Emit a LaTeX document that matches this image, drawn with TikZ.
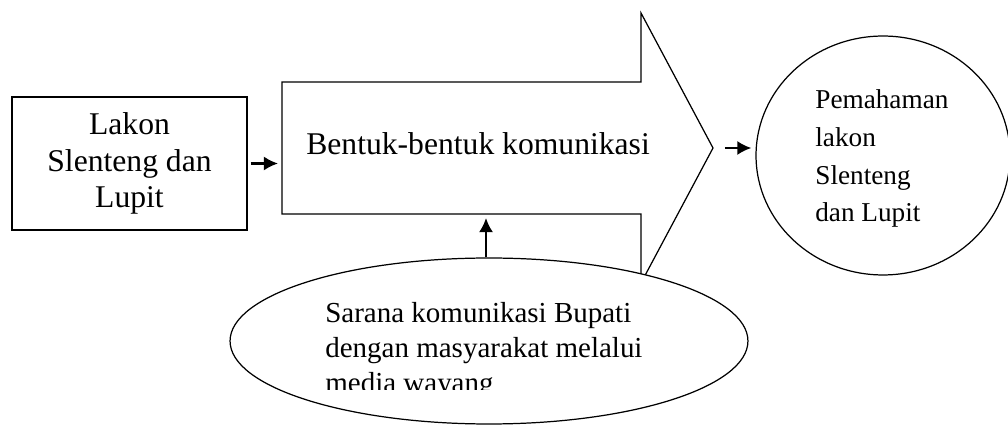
\documentclass[tikz,border=0pt]{standalone}
\usepackage{fontspec}
\setmainfont{Liberation Serif}
\usetikzlibrary{shapes.geometric, arrows.meta}
\tikzset{
  garis/.style={line width=0.7pt},
  panah/.style={-{Latex[length=8pt,width=8pt]}, line width=1.2pt},
  teks/.style={inner sep=0pt, align=left},
}

\begin{document}
\begin{tikzpicture}[x=0.02cm, y=-0.02cm]
    \useasboundingbox (0,0) rectangle (1008,425);
    % Kotak lakon
    \node[draw, garis, minimum width=4.7cm, minimum height=2.66cm, inner sep=0pt, align=center,
          font=\fontsize{18}{21}\selectfont] (Lakon) at (129.5,163.5) {Lakon\\Slenteng dan\\Lupit};

    % Panah besar
    \coordinate (BodyLeft) at (282,163);
    \coordinate (BodyBottom) at (486,214);
    \coordinate (Tip) at (713,148);
    \draw[garis] (282,82) -- (641,82) -- (641,13) -- (Tip) -- (641,283) -- (641,214) -- (282,214) -- cycle;
    \node[teks, anchor=base west, font=\fontsize{18}{21}\selectfont] (Bentuk) at (306,155) {Bentuk-bentuk komunikasi};

    % Lingkaran pemahaman
    \node[draw, garis, ellipse, minimum width=5.08cm, minimum height=4.78cm] (Pemahaman) at (883,155.5) {};
    \node[teks, anchor=north west, font=\fontsize{15.5}{21.5}\selectfont] (PemahamanTeks) at (815,89.3)
        {Pemahaman\\lakon\\Slenteng\\dan Lupit};

    % Elips sarana
    \node[draw, garis, ellipse, fill=white, minimum width=10.36cm, minimum height=3.32cm] (Sarana) at (489,341) {};
    \begin{scope}
        \clip (300,290) rectangle (700,390);
        \node[teks, anchor=north west, font=\fontsize{16.5}{19.8}\selectfont] (SaranaTeks) at (325,302)
            {Sarana komunikasi Bupati\\dengan masyarakat melalui\\media wayang};
    \end{scope}

    % Panah penghubung
    \draw[panah, shorten <=1.7pt, shorten >=2.3pt] (Lakon.east) -- (Lakon.east -| BodyLeft);
    \draw[panah, shorten <=6.8pt, shorten >=2.3pt] (Tip) -- (Tip -| Pemahaman.west);
    \draw[panah, shorten >=2.3pt] (Sarana.north -| BodyBottom) -- (BodyBottom);
\end{tikzpicture}
\end{document}
